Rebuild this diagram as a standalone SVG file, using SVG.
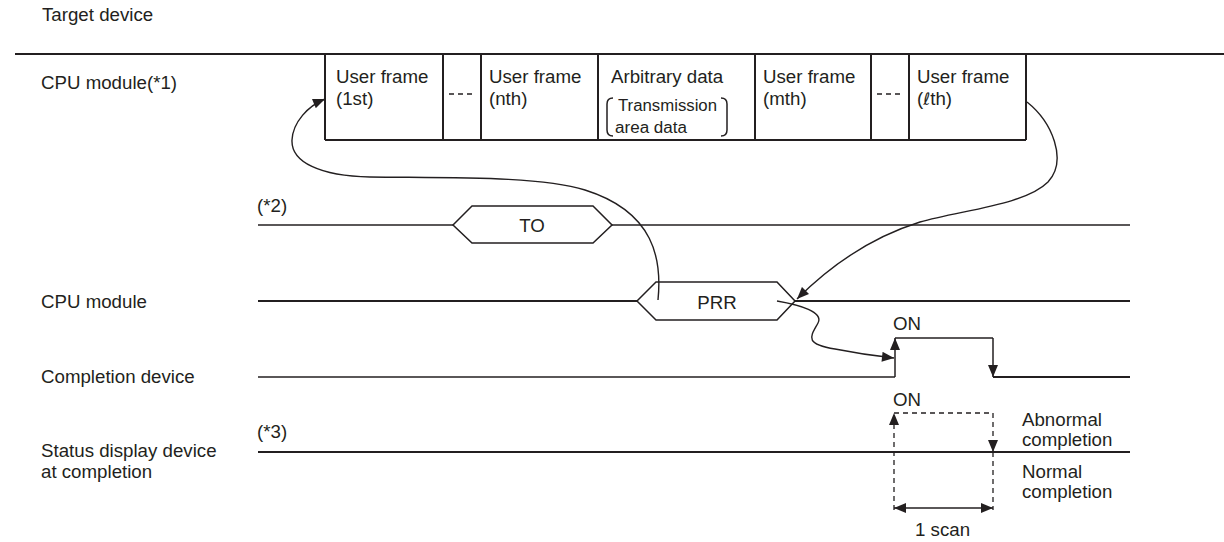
<svg xmlns="http://www.w3.org/2000/svg" width="1224" height="542" viewBox="0 0 1224 542">
<style>
text{font-family:"Liberation Sans",Arial,sans-serif;font-size:18.7px;fill:#231f20}
.sm{font-size:16px}
.ell{font-family:"DejaVu Sans",sans-serif;font-size:17px}
.ln{stroke:#231f20;stroke-width:2;fill:none}
.tl{stroke:#231f20;stroke-width:1.5;fill:none}
.cv{stroke:#231f20;stroke-width:1.4;fill:none}
.ds{stroke:#231f20;stroke-width:1.3;fill:none;stroke-dasharray:5,4}
.hex{stroke:#231f20;stroke-width:1.5;fill:#fff}
</style>
<defs>
<marker id="ah" viewBox="0 0 12 10" refX="12" refY="5" markerWidth="13" markerHeight="10" markerUnits="userSpaceOnUse" orient="auto">
<path d="M0 0 L12 5 L0 10 Z" fill="#231f20"/>
</marker>
<marker id="ahs" viewBox="0 0 12 10" refX="0" refY="5" markerWidth="13" markerHeight="10" markerUnits="userSpaceOnUse" orient="auto">
<path d="M12 0 L0 5 L12 10 Z" fill="#231f20"/>
</marker>
</defs>
<rect width="1224" height="542" fill="#fff"/>

<g id="labels">
<text x="42" y="21">Target device</text>
<text x="41" y="89">CPU module(*1)</text>
<text x="257" y="212">(*2)</text>
<text x="41" y="308">CPU module</text>
<text x="41" y="383">Completion device</text>
<text x="257" y="438">(*3)</text>
<text x="41" y="457">Status display device</text>
<text x="41" y="478">at completion</text>
</g>

<g id="frames">
<line class="ln" x1="15" y1="54" x2="1224" y2="54"/>
<line class="ln" x1="325" y1="140" x2="1026" y2="140"/>
<line class="ln" x1="325" y1="54" x2="325" y2="140"/>
<line class="ln" x1="443" y1="54" x2="443" y2="140"/>
<line class="ln" x1="481" y1="54" x2="481" y2="140"/>
<line class="ln" x1="598" y1="54" x2="598" y2="140"/>
<line class="ln" x1="755" y1="54" x2="755" y2="140"/>
<line class="ln" x1="871" y1="54" x2="871" y2="140"/>
<line class="ln" x1="909" y1="54" x2="909" y2="140"/>
<line class="ln" x1="1026" y1="54" x2="1026" y2="140"/>
<line class="ds" x1="449" y1="94" x2="476" y2="94"/>
<line class="ds" x1="877" y1="94" x2="904" y2="94"/>
<text x="336" y="83">User frame</text>
<text x="336" y="105">(1st)</text>
<text x="489" y="83">User frame</text>
<text x="489" y="105">(nth)</text>
<text x="611" y="83">Arbitrary data</text>
<text class="sm" x="618" y="111" textLength="99" lengthAdjust="spacingAndGlyphs">Transmission</text>
<text class="sm" x="615" y="133" textLength="72" lengthAdjust="spacingAndGlyphs">area data</text>
<path class="tl" d="M613 98 Q607 98 607 104 L607 130 Q607 136 613 136"/>
<path class="tl" d="M721 98 Q727 98 727 104 L727 130 Q727 136 721 136"/>
<text x="763" y="83">User frame</text>
<text x="763" y="105">(mth)</text>
<text x="917" y="83">User frame</text>
<text x="917" y="105">(<tspan class="ell">ℓ</tspan>th)</text>
</g>

<g id="to-signal">
<line class="tl" x1="258" y1="225" x2="453" y2="225"/>
<line class="tl" x1="612" y1="225" x2="1130" y2="225"/>
<polygon class="hex" points="453,225 472,206 593,206 612,225 593,243 472,243"/>
<text x="532" y="232" text-anchor="middle">TO</text>
</g>

<g id="prr-signal">
<line class="ln" x1="258" y1="301" x2="637" y2="301"/>
<line class="ln" x1="795" y1="301" x2="1130" y2="301"/>
<polygon class="hex" points="637,301 656,282 777,282 795,301 777,320 656,320"/>
<text x="717" y="309" text-anchor="middle">PRR</text>
</g>

<g id="completion-signal">
<line class="tl" x1="258" y1="377" x2="895" y2="377"/>
<line class="tl" x1="895" y1="377" x2="895" y2="338" marker-end="url(#ah)"/>
<line class="tl" x1="895" y1="338" x2="993" y2="338"/>
<line class="tl" x1="993" y1="338" x2="993" y2="377" marker-end="url(#ah)"/>
<line class="ln" x1="993" y1="377" x2="1130" y2="377"/>
<text x="893" y="330">ON</text>
</g>

<g id="status-signal">
<line class="ln" x1="258" y1="452" x2="1130" y2="452"/>
<line class="ds" x1="894" y1="510" x2="894" y2="413" marker-end="url(#ah)"/>
<line class="ds" x1="894" y1="413" x2="993" y2="413"/>
<line class="ds" x1="993" y1="413" x2="993" y2="452" marker-end="url(#ah)"/>
<line class="ds" x1="993" y1="452" x2="993" y2="510"/>
<line class="tl" x1="894" y1="508" x2="993" y2="508" marker-start="url(#ahs)" marker-end="url(#ah)"/>
<text x="893" y="406">ON</text>
<text x="1022" y="426">Abnormal</text>
<text x="1022" y="446">completion</text>
<text x="1022" y="478">Normal</text>
<text x="1022" y="498">completion</text>
<text x="915" y="536">1 scan</text>
</g>

<g id="connectors">
<path class="cv" d="M658 300 C662 260 655 212 585 190 C540 176 450 178 370 177 C320 176 291 162 292 140 C293 122 308 106 325 99" marker-end="url(#ah)"/>
<path class="cv" d="M1027 102 C1052 122 1068 160 1048 182 C1025 205 962 210 920 222 C872 237 830 266 797 299" marker-end="url(#ah)"/>
<path class="cv" d="M777 301 C800 305 824 312 818 323 C811 336 803 344 835 349 C855 353 875 356 894 358" marker-end="url(#ah)"/>
</g>
</svg>
